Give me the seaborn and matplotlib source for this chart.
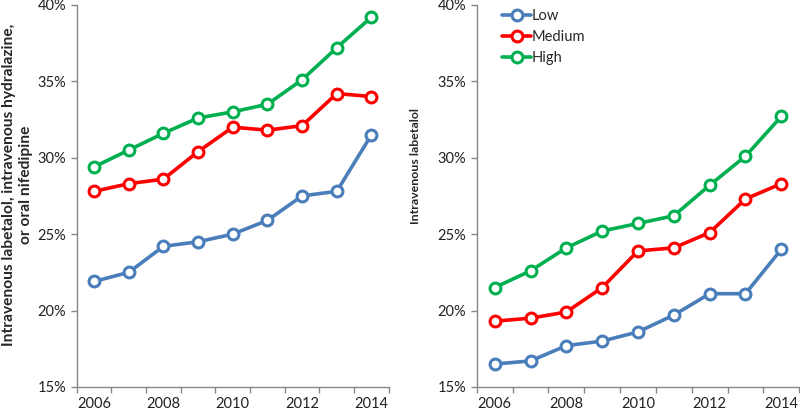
import numpy as np
import pandas as pd
import matplotlib
matplotlib.use("Agg")
import matplotlib.pyplot as plt
import seaborn as sns
from matplotlib.ticker import FixedLocator, FuncFormatter

# --- data ---
years = [2006, 2007, 2008, 2009, 2010, 2011, 2012, 2013, 2014]
groups = ["Low", "Medium", "High"]

# left panel: IV labetalol, IV hydralazine or oral nifedipine (%)
any_low = [21.9, 22.5, 24.2, 24.5, 25.0, 25.9, 27.5, 27.8, 31.5]
any_medium = [27.8, 28.3, 28.6, 30.4, 32.0, 31.8, 32.1, 34.2, 34.0]
any_high = [29.4, 30.5, 31.6, 32.6, 33.0, 33.5, 35.1, 37.2, 39.2]

# right panel: IV labetalol (%)
lab_low = [16.5, 16.7, 17.7, 18.0, 18.6, 19.7, 21.1, 21.1, 24.0]
lab_medium = [19.3, 19.5, 19.9, 21.5, 23.9, 24.1, 25.1, 27.3, 28.3]
lab_high = [21.5, 22.6, 24.1, 25.2, 25.7, 26.2, 28.2, 30.1, 32.7]

colors = {"Low": "#4a7ebb", "Medium": "#ff0000", "High": "#00b050"}


def to_long(low, medium, high):
    rows = []
    for g, vals in zip(groups, [low, medium, high]):
        for y, v in zip(years, vals):
            rows.append({"year": y, "group": g, "pct": v})
    return pd.DataFrame(rows)


sns.set_style("white")
plt.rcParams["font.family"] = ["Lato", "DejaVu Sans"]

fig = plt.figure(figsize=(8, 4.09), dpi=100)
ax1 = fig.add_axes([0.096, 0.054, 0.39, 0.934])
ax2 = fig.add_axes([0.596, 0.054, 0.403, 0.934])

# (axes, data, y label, font size, label position in axes coords)
panels = [
    (ax1, to_long(any_low, any_medium, any_high),
     "Intravenous labetalol, intravenous hydralazine,\nor oral nifedipine", 11.2,
     (-0.19, 0.53)),
    (ax2, to_long(lab_low, lab_medium, lab_high), "Intravenous labetalol", 8.9,
     (-0.19, 0.578)),
]

for ax, df, ylab, ysize, lpos in panels:
    sns.lineplot(data=df, x="year", y="pct", hue="group", hue_order=groups,
                 palette=colors, marker="o", markersize=7.8,
                 markerfacecolor="white", markeredgewidth=2.2, linewidth=2.6,
                 legend=False, ax=ax, zorder=3)
    for ln in ax.lines:
        ln.set_markeredgecolor(ln.get_color())
    ax.set_xlim(2005.5, 2014.5)
    ax.set_ylim(15, 40)
    ax.yaxis.set_major_locator(FixedLocator([15, 20, 25, 30, 35, 40]))
    ax.yaxis.set_major_formatter(FuncFormatter(lambda v, p: f"{v:.0f}%"))
    ax.xaxis.set_major_locator(FixedLocator([2006, 2008, 2010, 2012, 2014]))
    ax.xaxis.set_minor_locator(FixedLocator(np.arange(2005.5, 2015, 1.0)))
    ax.tick_params(axis="x", which="major", length=0, labelsize=10.5,
                   colors="#222222", pad=7)
    ax.tick_params(axis="x", which="minor", length=4, width=1, color="#868686",
                   direction="out", bottom=True)
    ax.tick_params(axis="y", length=4, width=1, color="#868686",
                   direction="out", labelsize=10.5, labelcolor="#222222", left=True)
    for s in ["top", "right"]:
        ax.spines[s].set_visible(False)
    for s in ["left", "bottom"]:
        ax.spines[s].set_color("#868686")
        ax.spines[s].set_linewidth(1)
    ax.set_xlabel("")
    ax.set_ylabel(ylab, fontsize=ysize, fontweight="bold", va="center")
    ax.yaxis.set_label_coords(*lpos)
    ax.grid(False)

ax2.legend(ax2.lines, groups, loc="upper left", bbox_to_anchor=(0.06, 1.005),
           frameon=False, fontsize=10.5, handlelength=2.0, handletextpad=0.0,
           labelspacing=0.5, borderaxespad=0.0)

fig.savefig("out.png", dpi=100)
